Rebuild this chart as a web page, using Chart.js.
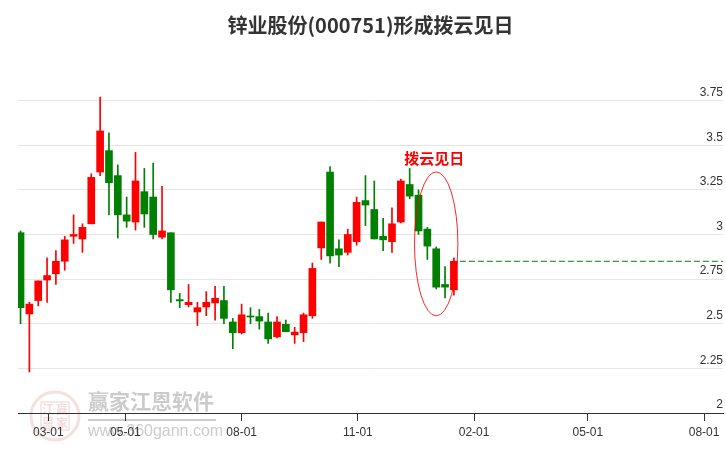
<!DOCTYPE html>
<html><head><meta charset="utf-8">
<script src="https://cdn.jsdelivr.net/npm/chart.js@4/dist/chart.umd.min.js"></script>
<style>html,body{margin:0;padding:0;background:#fff}#wrap{width:726px;height:450px}</style>
</head><body><div id="wrap"><canvas id="c" width="726" height="450"></canvas></div>
<script>
const weekDates = ['2019-02-07','2019-02-14','2019-02-21','2019-02-28','2019-03-07','2019-03-14','2019-03-21','2019-03-28',
  '2019-04-04','2019-04-11','2019-04-18','2019-04-25','2019-05-02','2019-05-09','2019-05-16','2019-05-23','2019-05-30',
  '2019-06-06','2019-06-13','2019-06-20','2019-06-27','2019-07-04','2019-07-11','2019-07-18','2019-07-25',
  '2019-08-01','2019-08-08','2019-08-15','2019-08-22','2019-08-29','2019-09-05','2019-09-12','2019-09-19','2019-09-26',
  '2019-10-03','2019-10-10','2019-10-17','2019-10-24','2019-10-31','2019-11-07','2019-11-14','2019-11-21','2019-11-28',
  '2019-12-05','2019-12-12','2019-12-19','2019-12-26','2020-01-02','2020-01-09','2020-01-16'];
const openPrices  = [3.01,2.555,2.63,2.745,2.78,2.85,2.99,2.975,3.06,3.35,3.47,3.33,3.11,3.07,3.24,3.21,2.985,3.01,2.635,2.607,
  2.566,2.594,2.617,2.63,2.51,2.45,2.542,2.54,2.51,2.427,2.497,2.438,2.45,2.545,2.925,3.35,2.92,2.90,2.96,3.19,
  3.14,2.99,2.96,3.07,3.28,3.22,3.03,2.92,2.72,2.69];
const highPrices  = [3.02,2.62,2.74,2.87,2.91,2.99,3.11,3.06,3.34,3.77,3.57,3.39,3.21,3.46,3.37,3.40,3.27,3.01,2.67,2.72,
  2.62,2.68,2.71,2.71,2.53,2.61,2.59,2.58,2.56,2.54,2.52,2.48,2.56,2.84,3.07,3.38,2.97,3.03,3.21,3.33,
  3.30,3.09,3.15,3.31,3.37,3.25,3.04,2.93,2.82,2.87];
const lowPrices   = [2.50,2.23,2.60,2.62,2.72,2.80,2.95,2.90,3.06,3.33,3.11,2.98,3.04,3.025,3.04,2.975,2.975,2.62,2.59,2.594,
  2.49,2.545,2.52,2.50,2.36,2.443,2.50,2.47,2.39,2.42,2.455,2.39,2.40,2.53,2.86,2.84,2.82,2.885,2.94,3.05,
  2.975,2.91,2.90,3.065,3.20,3.00,2.86,2.695,2.645,2.66];
const closePrices = [2.59,2.61,2.74,2.77,2.85,2.97,3.00,3.04,3.32,3.58,3.29,3.11,3.075,3.30,3.115,3.00,3.02,2.69,2.628,2.62,
  2.59,2.62,2.643,2.53,2.45,2.55,2.538,2.515,2.415,2.51,2.455,2.453,2.55,2.81,3.07,2.88,2.885,3.00,3.18,3.165,
  2.975,2.97,3.06,3.30,3.215,3.02,2.935,2.705,2.705,2.85];
const tickDates  = ['2019-03-01','2019-05-01','2019-08-01','2019-11-01','2020-02-01','2020-05-01','2020-08-01'];
const tickLabels = ['03-01','05-01','08-01','11-01','02-01','05-01','08-01'];
const yTickValues = [2,2.25,2.5,2.75,3,3.25,3.5,3.75];
const xRange = ['2019-02-05','2020-08-16'];
const yRange = [2,4];
const titleText = '锌业股份(000751)形成拨云见日';
const patternLabel = '拨云见日';
const patternStart = 45;

const RED = '#ff0000', GREEN = '#008000';
const day = s => Date.parse(s) / 864e5;
const xs = weekDates.map(day);
const colors = closePrices.map((c, i) => c >= openPrices[i] ? RED : GREEN);
const labelFont = {family: "'Liberation Sans', Arial, sans-serif", size: 12};

const decor = {
  id: 'decor',
  beforeDraw(chart) {
    const ctx = chart.ctx;
    ctx.save();
    // watermark
    ctx.strokeStyle = 'rgba(210,110,110,0.22)';
    ctx.lineWidth = 3;
    ctx.beginPath(); ctx.arc(55, 416, 24, 0, Math.PI * 2); ctx.stroke();
    ctx.lineWidth = 1.5;
    ctx.strokeRect(41, 402, 28, 28);
    ctx.fillStyle = 'rgba(210,110,110,0.25)';
    ctx.font = "bold 12px 'Noto Sans CJK SC'";
    ctx.textAlign = 'center'; ctx.textBaseline = 'middle';
    ctx.fillText('江', 48, 409); ctx.fillText('赢', 62, 409);
    ctx.fillText('恩', 48, 423); ctx.fillText('家', 62, 423);
    ctx.fillStyle = 'rgba(140,140,140,0.45)';
    ctx.font = "bold 21px 'Noto Sans CJK SC'";
    ctx.textAlign = 'left';
    ctx.fillText('赢家江恩软件', 88, 401);
    ctx.fillRect(88, 419, 128, 2);
    ctx.font = "16px 'Liberation Sans', Arial";
    ctx.fillText('www.360gann.com', 88, 432);
    // title
    const ca = chart.chartArea;
    ctx.fillStyle = '#333';
    ctx.font = "bold 20px 'Noto Sans CJK SC'";
    ctx.textAlign = 'center';
    ctx.fillText(titleText, (ca.left + ca.right) / 2, 25);
    ctx.restore();
  },
  afterDatasetsDraw(chart) {
    const ctx = chart.ctx, xsc = chart.scales.x, ysc = chart.scales.y, ca = chart.chartArea;
    const n = xs.length;
    const x0 = xsc.getPixelForValue(xs[patternStart]), x1 = xsc.getPixelForValue(xs[n - 1]);
    const hi = Math.max(...highPrices.slice(patternStart)), lo = Math.min(...lowPrices.slice(patternStart));
    const cx = (x0 + x1) / 2, rx = (x1 - x0) / 2 + 4;
    const yTop = ysc.getPixelForValue(hi) - 18, yBot = ysc.getPixelForValue(lo) + 18;
    ctx.save();
    ctx.strokeStyle = 'rgba(255,0,0,0.85)';
    ctx.lineWidth = 1;
    ctx.beginPath();
    ctx.ellipse(cx, (yTop + yBot) / 2, rx, (yBot - yTop) / 2, 0, 0, Math.PI * 2);
    ctx.stroke();
    ctx.fillStyle = RED;
    ctx.font = "bold 15px 'Noto Sans CJK SC'";
    ctx.textAlign = 'center'; ctx.textBaseline = 'middle';
    ctx.fillText(patternLabel, cx - 2, yTop - 14);
    // last close dashed line
    const yc = ysc.getPixelForValue(closePrices[n - 1]);
    ctx.strokeStyle = GREEN;
    ctx.setLineDash([6, 3]);
    ctx.beginPath();
    ctx.moveTo(x1 + 6, yc); ctx.lineTo(ca.right, yc);
    ctx.stroke();
    ctx.restore();
  }
};

new Chart(document.getElementById('c'), {
  type: 'bar',
  data: {
    datasets: [
      {label: 'wick', data: xs.map((x, i) => ({x, y: [lowPrices[i], highPrices[i]]})),
        backgroundColor: colors, barThickness: 1, grouped: false, order: 2, borderWidth: 0},
      {label: 'body', data: xs.map((x, i) => ({x, y: [openPrices[i], closePrices[i]]})),
        backgroundColor: colors, barThickness: 7, grouped: false, order: 1, borderWidth: 0, minBarLength: 1}
    ]
  },
  options: {
    responsive: false, animation: false, devicePixelRatio: 1,
    layout: {padding: {left: 18, top: 56, right: 0, bottom: 0}},
    plugins: {legend: {display: false}, tooltip: {enabled: false}, title: {display: false}},
    scales: {
      x: {
        type: 'linear', min: day(xRange[0]), max: day(xRange[1]), offset: false,
        afterBuildTicks: ax => { ax.ticks = tickDates.map(d => ({value: day(d)})); },
        afterFit: ax => { ax.height = 37; },
        grid: {drawOnChartArea: false, drawTicks: true, tickLength: 8, color: '#333', offset: false},
        border: {display: true, color: '#333', width: 1},
        ticks: {callback: (v, i) => tickLabels[i], font: labelFont, color: '#333', padding: 4,
          maxRotation: 0, autoSkip: false}
      },
      y: {
        type: 'linear', position: 'right', min: yRange[0], max: yRange[1],
        afterBuildTicks: ax => { ax.ticks = yTickValues.map(v => ({value: v})); },
        afterFit: ax => { ax.width = 3; },
        grid: {color: '#e6e6e6', drawTicks: false, lineWidth: 1},
        border: {display: false},
        ticks: {mirror: true, padding: 0, labelOffset: -8, color: '#333', font: labelFont,
          callback: v => String(v)}
      }
    }
  },
  plugins: [decor]
});
</script>
</body></html>
